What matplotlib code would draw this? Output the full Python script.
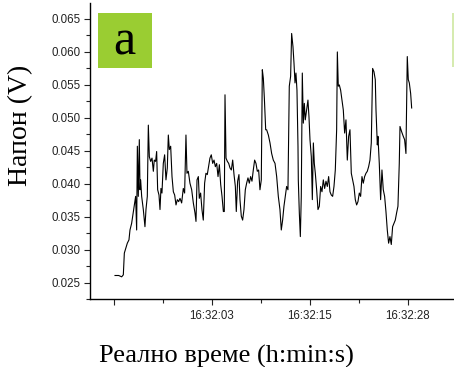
import matplotlib
matplotlib.use("Agg")
import matplotlib.pyplot as plt
from matplotlib.patches import Rectangle
from matplotlib.ticker import MultipleLocator, FixedLocator

# elapsed time (s) and measured voltage (V)
time_s = [
    0.13, 0.60, 0.98, 1.19, 1.32, 1.53, 1.70, 1.91, 2.04, 2.25, 2.47, 2.68, 2.76, 2.89,
    2.98, 3.10, 3.23, 3.32, 3.40, 3.53, 3.74, 3.95, 4.08, 4.25, 4.38, 4.51, 4.68, 4.85,
    5.02, 5.14, 5.31, 5.44, 5.57, 5.74, 5.87, 5.99, 6.12, 6.29, 6.46, 6.63, 6.80, 6.93,
    7.06, 7.23, 7.40, 7.57, 7.74, 7.91, 8.08, 8.25, 8.42, 8.63, 8.84, 9.01, 9.18, 9.31,
    9.48, 9.69, 9.91, 10.12, 10.33, 10.46, 10.59, 10.76, 10.88, 11.05, 11.22, 11.39,
    11.56, 11.73, 11.90, 12.07, 12.24, 12.41, 12.59, 12.76, 12.93, 13.10, 13.27, 13.44,
    13.61, 13.78, 13.95, 14.07, 14.16, 14.29, 14.46, 14.63, 14.80, 14.97, 15.14, 15.31,
    15.48, 15.60, 15.77, 15.94, 16.07, 16.24, 16.41, 16.58, 16.75, 16.92, 17.09, 17.26,
    17.43, 17.60, 17.77, 17.94, 18.11, 18.28, 18.45, 18.62, 18.79, 18.92, 19.05, 19.18,
    19.35, 19.47, 19.69, 19.90, 20.11, 20.32, 20.54, 20.75, 20.96, 21.17, 21.34, 21.51,
    21.68, 21.85, 22.02, 22.19, 22.36, 22.53, 22.66, 22.83, 22.96, 23.09, 23.21, 23.34,
    23.47, 23.51, 23.64, 23.77, 23.89, 24.02, 24.15, 24.28, 24.40, 24.57, 24.74, 24.87,
    25.00, 25.17, 25.30, 25.43, 25.55, 25.68, 25.85, 26.02, 26.19, 26.36, 26.53, 26.70,
    26.87, 27.04, 27.21, 27.38, 27.55, 27.72, 27.89, 28.06, 28.23, 28.40, 28.49, 28.61,
    28.74, 28.91, 29.08, 29.25, 29.42, 29.59, 29.76, 29.93, 30.10, 30.27, 30.44, 30.61,
    30.78, 30.95, 31.12, 31.29, 31.46, 31.63, 31.80, 31.97, 32.14, 32.31, 32.48, 32.65,
    32.82, 32.99, 33.16, 33.33, 33.42, 33.59, 33.67, 33.84, 34.01, 34.18, 34.35, 34.52,
    34.69, 34.86, 35.03, 35.20, 35.37, 35.54, 35.71, 35.88, 36.05, 36.22, 36.39, 36.48,
    36.69, 36.90, 37.07, 37.24, 37.41, 37.54, 37.67, 37.84, 37.97,
]
voltage = [
    0.0261, 0.0261, 0.0259, 0.0262, 0.0295, 0.0303, 0.0310, 0.0315, 0.0330, 0.0340, 0.0358, 0.0376, 0.0381, 0.0330,
    0.0457, 0.0381, 0.0467, 0.0391, 0.0406, 0.0381, 0.0361, 0.0335, 0.0361, 0.0381, 0.0489, 0.0441, 0.0434, 0.0439,
    0.0419, 0.0436, 0.0434, 0.0449, 0.0391, 0.0383, 0.0361, 0.0393, 0.0386, 0.0431, 0.0444, 0.0406, 0.0424, 0.0474,
    0.0452, 0.0457, 0.0411, 0.0388, 0.0383, 0.0368, 0.0376, 0.0373, 0.0378, 0.0371, 0.0393, 0.0386, 0.0474, 0.0416,
    0.0419, 0.0401, 0.0391, 0.0371, 0.0356, 0.0343, 0.0406, 0.0411, 0.0378, 0.0386, 0.0361, 0.0345,
    0.0401, 0.0416, 0.0414, 0.0426, 0.0439, 0.0444, 0.0431, 0.0436, 0.0426, 0.0431, 0.0411, 0.0429,
    0.0399, 0.0381, 0.0358, 0.0358, 0.0535, 0.0439, 0.0434, 0.0431, 0.0424, 0.0421, 0.0436, 0.0414,
    0.0396, 0.0358, 0.0404, 0.0414, 0.0376, 0.0351, 0.0345, 0.0361, 0.0391, 0.0401, 0.0409, 0.0401,
    0.0411, 0.0404, 0.0421, 0.0436, 0.0431, 0.0419, 0.0421, 0.0391, 0.0406, 0.0573, 0.0560, 0.0530,
    0.0482, 0.0482, 0.0474, 0.0462, 0.0446, 0.0436, 0.0431, 0.0411, 0.0381, 0.0361, 0.0330, 0.0345,
    0.0366, 0.0381, 0.0396, 0.0391, 0.0548, 0.0563, 0.0628, 0.0608, 0.0583, 0.0553, 0.0568, 0.0542,
    0.0457, 0.0406, 0.0356, 0.0320, 0.0381, 0.0568, 0.0492, 0.0522, 0.0497, 0.0512, 0.0527, 0.0502,
    0.0467, 0.0441, 0.0376, 0.0462, 0.0431, 0.0416, 0.0391, 0.0361, 0.0366, 0.0396, 0.0388, 0.0406,
    0.0393, 0.0404, 0.0396, 0.0411, 0.0388, 0.0383, 0.0381, 0.0396, 0.0421, 0.0482, 0.0600, 0.0548,
    0.0550, 0.0542, 0.0527, 0.0512, 0.0477, 0.0497, 0.0436, 0.0472, 0.0482, 0.0416, 0.0406, 0.0396,
    0.0376, 0.0368, 0.0373, 0.0386, 0.0381, 0.0411, 0.0401, 0.0411, 0.0416, 0.0419, 0.0426, 0.0436,
    0.0462, 0.0575, 0.0570, 0.0558, 0.0512, 0.0459, 0.0472, 0.0431, 0.0376, 0.0421, 0.0391, 0.0381,
    0.0358, 0.0330, 0.0310, 0.0320, 0.0308, 0.0335, 0.0340, 0.0345, 0.0356, 0.0366, 0.0431, 0.0487,
    0.0479, 0.0472, 0.0467, 0.0446, 0.0593, 0.0558, 0.0553, 0.0537, 0.0515,
]

# clock-time labels on the time axis
time_ticks = [0.0, 12.5, 25.0, 37.5]
time_labels = ["", "16:32:03", "16:32:15", "16:32:28"]

W, H = 454, 367
fig = plt.figure(figsize=(W / 100, H / 100), dpi=100)
ax = fig.add_axes([90 / W, (H - 299.3) / H, (W - 90) / W, 296.3 / H])

ax.plot(time_s, voltage, color="black", linewidth=0.8)

ax.set_xlim(-3.06, 43.37)
ax.set_ylim(0.02249, 0.06742)

ax.spines["top"].set_visible(False)
ax.spines["right"].set_visible(False)
for s in ("left", "bottom"):
    ax.spines[s].set_linewidth(1.0)

ax.yaxis.set_major_locator(MultipleLocator(0.005))
ax.yaxis.set_minor_locator(MultipleLocator(0.0025))
ax.yaxis.set_major_formatter(plt.FuncFormatter(lambda v, p: f"{v:.3f}"))
ax.xaxis.set_major_locator(FixedLocator(time_ticks))
ax.set_xticklabels(time_labels)
ax.xaxis.set_minor_locator(FixedLocator([6.25, 18.75, 31.25]))

ax.tick_params(which="major", direction="out", length=4.5, width=0.8,
               labelsize=8.3, colors="#222222", pad=2)
ax.tick_params(which="minor", direction="out", length=2.6, width=0.8, colors="#222222")
ax.tick_params(axis="x", which="major", pad=3)
for lab in ax.get_xticklabels() + ax.get_yticklabels():
    lab.set_family("Liberation Sans")

ax.set_ylabel("Напон (V)", family="Liberation Serif", fontsize=20)
ax.yaxis.set_label_coords(-0.157, (299.3 - 125) / 296.3)
fig.text(226 / W, 1 - 356 / H, "Реално време (h:min:s)", family="Liberation Serif",
         fontsize=19, ha="center", va="center")

# panel badge
fig.patches.append(Rectangle((97.7 / W, 1 - 68.3 / H), 54.6 / W, 55 / H,
                             transform=fig.transFigure, facecolor="#9acd32",
                             edgecolor="none"))
fig.text(124.5 / W, 1 - 42 / H, "a", family="Liberation Serif", fontsize=36,
         ha="center", va="center")
# edge of the neighbouring panel badge
fig.patches.append(Rectangle((452 / W, 1 - 67 / H), 6 / W, 54 / H,
                             transform=fig.transFigure, facecolor="#d6ebb0",
                             edgecolor="none"))

fig.savefig("out.png", dpi=100)
